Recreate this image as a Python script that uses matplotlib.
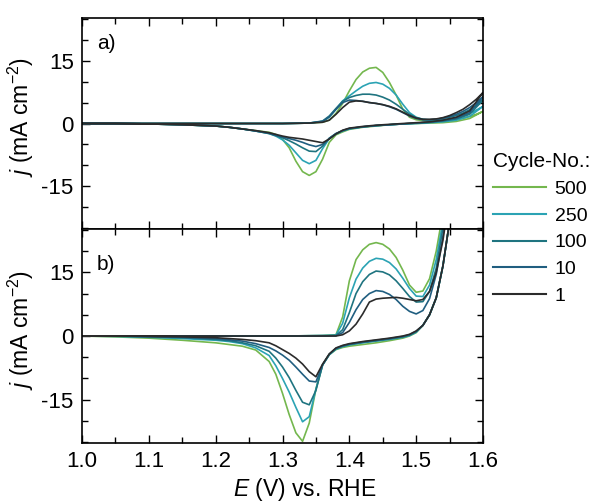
import matplotlib
matplotlib.use("Agg")
import matplotlib.pyplot as plt
from matplotlib.ticker import MultipleLocator, FormatStrFormatter

plt.rcParams['font.family'] = 'Liberation Sans'
plt.rcParams['mathtext.fontset'] = 'custom'
plt.rcParams['mathtext.rm'] = 'Liberation Sans'
plt.rcParams['mathtext.it'] = 'Liberation Sans:italic'
plt.rcParams['axes.unicode_minus'] = False

# cycle numbers and colours
cycles = ['500', '250', '100', '10', '1']
colors = ['#74b74e', '#2ba3b4', '#1f7480', '#205e80', '#2b2b2b']

# ---- panel a) potential grids (V vs. RHE) ----
E_a_fwd = [1.00, 1.10, 1.20, 1.30, 1.34, 1.36, 1.37, 1.38, 1.39, 1.40, 1.41, 1.42, 1.43, 1.44, 1.45,
           1.46, 1.47, 1.48, 1.49, 1.50, 1.51, 1.52, 1.53, 1.54, 1.55, 1.56, 1.57, 1.58, 1.59, 1.60]
E_a_rev = [1.60, 1.58, 1.56, 1.54, 1.52, 1.50, 1.48, 1.46, 1.44, 1.42, 1.40, 1.39, 1.38, 1.37, 1.36, 1.35,
           1.34, 1.33, 1.32, 1.31, 1.30, 1.29, 1.28, 1.26, 1.24, 1.22, 1.20, 1.15, 1.10, 1.05, 1.00]

# anodic sweeps, panel a (mA cm-2)
j_a_fwd_500 = [0, 0, 0, 0, 0.1, 0.3, 0.8, 2.4, 4.8, 7.8, 10.5, 12.3, 13.2, 13.4, 12.2,
               9.8, 6.8, 3.4, 1.5, 0.9, 0.7, 0.6, 0.6, 0.7, 0.8, 1.0, 1.3, 1.7, 2.2, 2.9]
j_a_fwd_250 = [0, 0, 0, 0, 0.1, 0.5, 1.5, 3.4, 5.4, 6.6, 7.8, 8.9, 9.6, 9.8, 9.4,
               8.4, 6.8, 4.6, 2.6, 1.5, 1.0, 0.8, 0.8, 0.9, 1.1, 1.4, 1.8, 2.4, 3.2, 4.1]
j_a_fwd_100 = [0, 0, 0, 0, 0.1, 0.6, 1.8, 3.6, 5.3, 6.2, 6.7, 7.0, 7.0, 6.8, 6.3,
               5.6, 4.6, 3.4, 2.2, 1.4, 1.0, 0.9, 1.0, 1.2, 1.5, 1.9, 2.5, 3.3, 4.3, 5.6]
j_a_fwd_10 = [0, 0, 0, 0, 0.1, 0.5, 1.6, 3.4, 5.0, 5.6, 5.5, 5.3, 5.0, 4.8, 4.5,
              4.0, 3.4, 2.6, 1.8, 1.2, 0.9, 0.9, 1.0, 1.3, 1.7, 2.2, 2.9, 3.8, 5.0, 6.4]
j_a_fwd_1 = [0, 0, 0, 0, 0.1, 0.3, 0.8, 2.2, 3.8, 5.1, 5.4, 5.3, 5.0, 4.8, 4.5,
             4.1, 3.5, 2.7, 1.9, 1.3, 1.0, 1.0, 1.1, 1.4, 1.9, 2.6, 3.4, 4.5, 5.8, 7.4]

# cathodic sweeps, panel a
j_a_rev_500 = [2.9, 1.2, 0.5, 0.2, 0.1, 0.0, -0.1, -0.3, -0.6, -0.9, -1.4, -2.0, -2.7, -4.5, -8.5, -11.5,
               -12.4, -11.5, -9.0, -5.8, -3.8, -2.6, -2.1, -1.7, -1.3, -0.9, -0.6, -0.3, -0.1, 0.0, 0.0]
j_a_rev_250 = [4.1, 1.7, 0.8, 0.4, 0.2, 0.0, -0.1, -0.3, -0.5, -0.8, -1.3, -1.8, -2.5, -3.6, -6.0, -8.8,
               -9.6, -8.8, -7.0, -5.2, -3.9, -3.0, -2.4, -1.8, -1.3, -0.9, -0.6, -0.3, -0.1, 0.0, 0.0]
j_a_rev_100 = [5.6, 2.2, 1.1, 0.6, 0.3, 0.1, -0.1, -0.3, -0.5, -0.8, -1.2, -1.7, -2.4, -3.5, -5.4, -6.7,
               -6.6, -5.8, -4.9, -4.1, -3.4, -2.9, -2.4, -1.8, -1.3, -0.9, -0.6, -0.3, -0.1, 0.0, 0.0]
j_a_rev_10 = [6.4, 2.6, 1.3, 0.7, 0.3, 0.1, -0.1, -0.3, -0.5, -0.8, -1.2, -1.7, -2.4, -3.6, -5.0, -5.5,
              -5.1, -4.5, -4.0, -3.6, -3.2, -2.8, -2.3, -1.8, -1.3, -0.9, -0.6, -0.3, -0.1, 0.0, 0.0]
j_a_rev_1 = [7.4, 3.0, 1.5, 0.8, 0.4, 0.2, 0.0, -0.2, -0.4, -0.7, -1.1, -1.6, -2.5, -3.7, -4.6, -4.3,
             -4.0, -3.7, -3.5, -3.3, -3.0, -2.6, -2.2, -1.7, -1.3, -0.9, -0.6, -0.3, -0.1, 0.0, 0.0]

# ---- panel b) ----
E_b_fwd = [1.00, 1.10, 1.20, 1.30, 1.36, 1.38, 1.39, 1.40, 1.41, 1.42, 1.43, 1.44,
           1.45, 1.46, 1.47, 1.48, 1.49, 1.50, 1.51, 1.52, 1.53, 1.54, 1.55, 1.56]
E_b_rev = [1.56, 1.55, 1.54, 1.53, 1.52, 1.51, 1.50, 1.49, 1.48, 1.46, 1.44, 1.42, 1.40, 1.39, 1.38, 1.37,
           1.36, 1.35, 1.34, 1.33, 1.32, 1.31, 1.30, 1.29, 1.28, 1.26, 1.24, 1.22, 1.20, 1.15, 1.10, 1.05, 1.00]

j_b_fwd_500 = [0, 0, 0, 0, 0.1, 0.3, 4.5, 13.0, 18.0, 20.3, 21.6, 22.0,
               21.6, 20.5, 18.5, 15.5, 12.0, 10.3, 10.6, 13.5, 20.0, 29.0, 40.0, 55.0]
j_b_fwd_250 = [0, 0, 0, 0, 0.1, 0.2, 3.0, 9.0, 13.4, 16.0, 17.6, 18.3,
               18.1, 17.3, 15.8, 13.6, 11.2, 9.4, 9.3, 12.0, 18.0, 27.0, 38.0, 52.0]
j_b_fwd_100 = [0, 0, 0, 0, 0.1, 0.1, 1.5, 5.5, 10.0, 12.8, 14.5, 15.3,
               15.1, 14.4, 13.0, 11.2, 9.3, 8.0, 8.1, 10.5, 16.0, 25.5, 36.0, 50.0]
j_b_fwd_10 = [0, 0, 0, 0, 0.0, 0.1, 0.8, 3.2, 6.2, 8.6, 10.0, 10.7,
              10.5, 9.8, 8.6, 7.0, 5.8, 5.2, 6.0, 8.8, 14.5, 23.5, 35.0, 50.0]
j_b_fwd_1 = [0, 0, 0, 0, 0.0, 0.0, 0.3, 1.2, 2.8, 5.2, 8.0, 8.7,
             8.9, 9.0, 9.1, 8.9, 8.6, 8.3, 8.6, 10.5, 15.0, 22.5, 33.0, 48.0]

j_b_rev_500 = [55.0, 27.0, 16.5, 9.0, 5.0, 2.5, 0.8, 0.0, -0.5, -1.1, -1.6, -2.0, -2.4, -2.7, -3.2, -4.4,
               -6.8, -12.5, -20.5, -24.8, -22.8, -18.5, -13.5, -9.0, -6.0, -3.3, -2.4, -2.0, -1.6, -1.0, -0.5, -0.2, 0.0]
j_b_rev_250 = [52.0, 27.0, 16.5, 9.0, 5.0, 2.5, 0.9, 0.1, -0.3, -0.8, -1.2, -1.6, -2.1, -2.5, -3.1, -4.4,
               -6.8, -12.5, -19.0, -20.2, -16.8, -13.2, -10.0, -7.0, -4.6, -2.8, -1.8, -1.3, -1.0, -0.6, -0.3, -0.1, 0.0]
j_b_rev_100 = [50.0, 27.0, 16.5, 9.0, 5.0, 2.5, 1.0, 0.2, -0.2, -0.7, -1.1, -1.5, -2.0, -2.4, -3.0, -4.3,
               -6.8, -12.8, -16.2, -15.6, -12.8, -9.8, -7.3, -5.2, -3.6, -2.3, -1.6, -1.1, -0.8, -0.4, -0.2, 0.0, 0.0]
j_b_rev_10 = [50.0, 27.0, 16.5, 9.0, 5.0, 2.5, 1.1, 0.3, -0.1, -0.6, -1.0, -1.4, -1.9, -2.3, -2.9, -4.3,
              -6.8, -10.8, -10.6, -9.0, -7.3, -5.7, -4.5, -3.5, -2.7, -1.8, -1.2, -0.9, -0.6, -0.3, -0.1, 0.0, 0.0]
j_b_rev_1 = [48.0, 27.0, 16.5, 9.0, 5.0, 2.5, 1.2, 0.4, 0.0, -0.5, -0.9, -1.3, -1.8, -2.2, -2.8, -4.2,
             -6.6, -9.6, -8.4, -6.6, -5.2, -4.1, -3.2, -2.3, -1.6, -1.1, -0.8, -0.6, -0.4, -0.2, -0.1, 0.0, 0.0]

panel_a = [(j_a_fwd_500, j_a_rev_500), (j_a_fwd_250, j_a_rev_250), (j_a_fwd_100, j_a_rev_100),
           (j_a_fwd_10, j_a_rev_10), (j_a_fwd_1, j_a_rev_1)]
panel_b = [(j_b_fwd_500, j_b_rev_500), (j_b_fwd_250, j_b_rev_250), (j_b_fwd_100, j_b_rev_100),
           (j_b_fwd_10, j_b_rev_10), (j_b_fwd_1, j_b_rev_1)]

fig = plt.figure(figsize=(5.95, 5.04), dpi=100)
ax_a = fig.add_axes([0.1378, 0.5456, 0.674, 0.4187])
ax_b = fig.add_axes([0.1378, 0.1210, 0.674, 0.4246])

for ax, data, E_f, E_r in [(ax_a, panel_a, E_a_fwd, E_a_rev), (ax_b, panel_b, E_b_fwd, E_b_rev)]:
    for (jf, jr), col, lab in zip(data, colors, cycles):
        ax.plot(E_f + E_r, jf + jr, color=col, lw=1.2, label=lab)
    ax.set_xlim(1.0, 1.6)
    ax.set_ylim(-25.2, 25.2)
    ax.xaxis.set_major_locator(MultipleLocator(0.1))
    ax.xaxis.set_minor_locator(MultipleLocator(0.05))
    ax.yaxis.set_major_locator(MultipleLocator(15))
    ax.yaxis.set_minor_locator(MultipleLocator(5))
    ax.tick_params(which='both', direction='in', top=True, right=True, width=1.0)
    ax.tick_params(which='major', length=6, labelsize=16, pad=6)
    ax.tick_params(which='minor', length=4)
    for sp in ax.spines.values():
        sp.set_linewidth(1.2)
    ax.set_ylabel(r'$j$ (mA cm$^{-2}$)', fontsize=16.5)
    ax.yaxis.set_label_coords(-0.115, 0.53)

ax_a.tick_params(labelbottom=False)
ax_a.text(0.037, 0.88, 'a)', transform=ax_a.transAxes, fontsize=15, va='center', ha='left')
ax_b.text(0.037, 0.835, 'b)', transform=ax_b.transAxes, fontsize=15, va='center', ha='left')
ax_b.xaxis.set_major_formatter(FormatStrFormatter('%.1f'))
ax_b.set_xlabel(r'$E$ (V) vs. RHE', fontsize=16.5)
ax_b.xaxis.set_label_coords(0.555, -0.152)

handles, labels = ax_a.get_legend_handles_labels()
leg = fig.legend(handles, labels, title='Cycle-No.:', loc='upper left',
                 bbox_to_anchor=(0.829, 0.698), frameon=False, fontsize=14,
                 title_fontsize=15, handlelength=2.7, handletextpad=0.45,
                 labelspacing=0.47, borderaxespad=0, borderpad=0)
leg._legend_box.align = 'left'
for line in leg.get_lines():
    line.set_linewidth(1.5)

fig.savefig('out.png', dpi=100)
